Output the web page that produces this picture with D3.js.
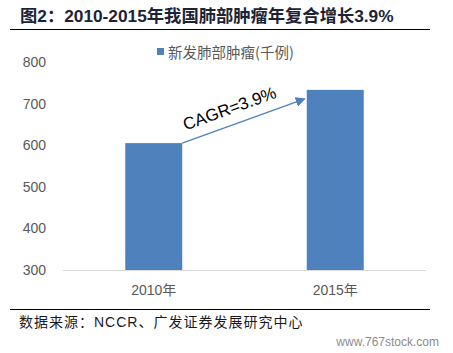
<!DOCTYPE html>
<html>
<head>
<meta charset="utf-8">
<script src="https://cdn.jsdelivr.net/npm/d3@7"></script>
<style>
  body { margin: 0; background: #fff; }
  text { font-family: "Liberation Sans", Arial, "Noto Sans CJK SC", sans-serif; }
</style>
</head>
<body>
<div id="container"></div>
<script>
/* DATA */
var years = ["2010年", "2015年"];
var cases = [605, 733];
var yTicks = [300, 400, 500, 600, 700, 800];
var seriesName = "新发肺部肿瘤(千例)";
var cagrLabel = "CAGR=3.9%";

var width = 453,
    height = 353,
    plotLeft = 63, plotRight = 426,
    plotTop = 62, plotBottom = 270;

var svg = d3.select('#container').append('svg')
    .attr('width', width)
    .attr('height', height)
    .style('background', '#fff');

/* SCALES */
var xScale = d3.scaleBand()
    .domain(years)
    .range([plotLeft, plotRight])
    .paddingInner(0.686)
    .paddingOuter(0.343);

var yScale = d3.scaleLinear()
    .domain([300, 800])
    .range([plotBottom, plotTop]);

/* title + rules */
svg.append('text')
    .attr('x', 20).attr('y', 22)
    .style('font-size', '17.3px')
    .style('font-weight', 'bold')
    .style('fill', '#1b2436')
    .text('图2：2010-2015年我国肺部肿瘤年复合增长3.9%');

svg.append('line')
    .attr('x1', 10).attr('x2', 430)
    .attr('y1', 29.5).attr('y2', 29.5)
    .style('stroke', '#000').style('stroke-width', 1);

svg.append('line')
    .attr('x1', 10).attr('x2', 430)
    .attr('y1', 309.5).attr('y2', 309.5)
    .style('stroke', '#000').style('stroke-width', 1);

/* legend */
svg.append('rect')
    .attr('x', 157).attr('y', 48)
    .attr('width', 7).attr('height', 7)
    .style('fill', '#4f81bd');
svg.append('text')
    .attr('x', 168).attr('y', 58)
    .style('font-size', '14.5px')
    .style('font-family', '"Noto Sans CJK SC", sans-serif')
    .style('fill', '#595959')
    .text(seriesName);

/* y axis labels */
svg.selectAll('.ylab').data(yTicks)
  .enter().append('text')
    .attr('class', 'ylab')
    .attr('x', 46)
    .attr('y', function(d) { return yScale(d) + 5; })
    .attr('text-anchor', 'end')
    .style('font-size', '14px')
    .style('fill', '#595959')
    .text(function(d) { return d; });

/* bars */
svg.selectAll('.bar').data(cases)
  .enter().append('rect')
    .attr('class', 'bar')
    .attr('x', function(d, i) { return xScale(years[i]); })
    .attr('y', function(d) { return yScale(d); })
    .attr('width', xScale.bandwidth())
    .attr('height', function(d) { return plotBottom - yScale(d); })
    .style('fill', '#4f81bd');

/* baseline */
svg.append('line')
    .attr('x1', plotLeft).attr('x2', plotRight)
    .attr('y1', plotBottom + 0.5).attr('y2', plotBottom + 0.5)
    .style('stroke', '#d9d9d9');

/* x labels */
svg.selectAll('.xlab').data(years)
  .enter().append('text')
    .attr('class', 'xlab')
    .attr('x', function(d) { return xScale(d) + xScale.bandwidth() / 2; })
    .attr('y', 295)
    .attr('text-anchor', 'middle')
    .style('font-size', '14px')
    .style('fill', '#595959')
    .text(function(d) { return d; });

/* CAGR arrow */
var defs = svg.append('defs');
defs.append('marker')
    .attr('id', 'arrow')
    .attr('viewBox', '0 0 10 10')
    .attr('refX', 9).attr('refY', 5)
    .attr('markerWidth', 10).attr('markerHeight', 10)
    .attr('markerUnits', 'userSpaceOnUse')
    .attr('orient', 'auto')
  .append('path')
    .attr('d', 'M0,0 L10,5 L0,10 z')
    .style('fill', '#4f81bd');

var x0 = xScale(years[0]) + xScale.bandwidth(),
    y0 = yScale(cases[0]),
    x1 = xScale(years[1]) - 2,
    y1 = yScale(cases[1]) + 9;

svg.append('line')
    .attr('x1', x0).attr('y1', y0)
    .attr('x2', x1).attr('y2', y1)
    .style('stroke', '#4f81bd')
    .style('stroke-width', 1.2)
    .attr('marker-end', 'url(#arrow)');

var ang = Math.atan2(y1 - y0, x1 - x0) * 180 / Math.PI;
svg.append('text')
    .attr('transform', 'translate(' + ((x0 + x1) / 2 - 12) + ',' + ((y0 + y1) / 2 - 7) + ') rotate(' + ang + ')')
    .attr('text-anchor', 'middle')
    .style('font-size', '17px')
    .style('fill', '#000')
    .text(cagrLabel);

/* source */
svg.append('text')
    .attr('x', 19).attr('y', 327)
    .style('font-size', '14px')
    .style('letter-spacing', '1px')
    .style('fill', '#1a1a1a')
    .text('数据来源：NCCR、广发证券发展研究中心');

svg.append('text')
    .attr('x', 439).attr('y', 346)
    .attr('text-anchor', 'end')
    .style('font-size', '12px')
    .style('fill', '#8c8c8c')
    .text('www.767stock.com');
</script>
</body>
</html>
